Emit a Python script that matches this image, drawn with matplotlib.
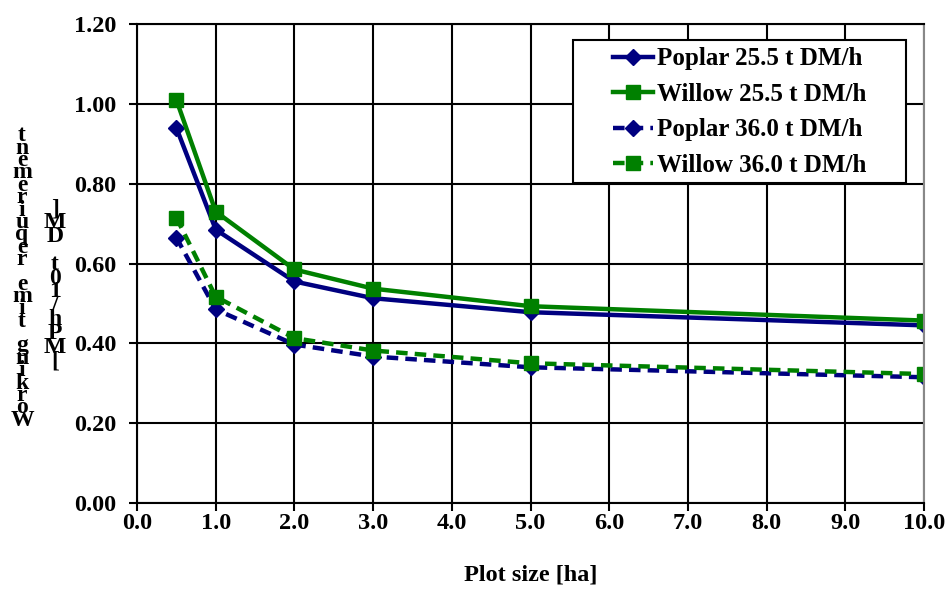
import matplotlib.pyplot as plt
from matplotlib.patches import Rectangle

# plot size [ha]
plot_size = [0.5, 1.0, 2.0, 3.0, 5.0, 10.0]

# working time requirement for each series
poplar_255 = [0.94, 0.685, 0.555, 0.513, 0.478, 0.445]
willow_255 = [1.01, 0.73, 0.585, 0.537, 0.493, 0.457]
poplar_360 = [0.665, 0.485, 0.397, 0.367, 0.340, 0.315]
willow_360 = [0.715, 0.517, 0.413, 0.382, 0.350, 0.323]

labels = ["Poplar 25.5 t DM/h", "Willow 25.5 t DM/h",
          "Poplar 36.0 t DM/h", "Willow 36.0 t DM/h"]

x_ticks = [0, 1, 2, 3, 4, 5, 6, 7, 8, 9, 10]
y_ticks = [0.0, 0.2, 0.4, 0.6, 0.8, 1.0, 1.2]

navy = "#000080"
green = "#008000"

plt.rcParams["font.family"] = ["Liberation Serif", "DejaVu Serif"]
plt.rcParams["font.weight"] = "bold"

fig = plt.figure(figsize=(9.47, 5.91), dpi=100)
ax = fig.add_axes([137 / 947, 1 - 503 / 591, (924 - 137) / 947, (503 - 24) / 591])

dash = (0, (2.6, 1.6))
ax.plot(plot_size, poplar_255, color=navy, lw=3.2, marker="D", ms=8, label=labels[0])
ax.plot(plot_size, willow_255, color=green, lw=3.2, marker="s", ms=10, label=labels[1])
ax.plot(plot_size, poplar_360, color=navy, lw=3.2, ls=dash, marker="D", ms=8, label=labels[2])
ax.plot(plot_size, willow_360, color=green, lw=3.2, ls=dash, marker="s", ms=10, label=labels[3])

ax.set_xlim(0, 10)
ax.set_ylim(0, 1.2)
ax.set_xticks(x_ticks)
ax.set_xticklabels([f"{v:.1f}" for v in x_ticks])
ax.set_yticks(y_ticks)
ax.set_yticklabels([f"{v:.2f}" for v in y_ticks])
ax.tick_params(axis="both", labelsize=17.5, direction="out", length=6, width=1.5)
ax.tick_params(axis="x", pad=1)
ax.tick_params(axis="y", pad=9)
ax.grid(True, color="black", lw=1.5)
ax.set_axisbelow(True)
for side in ["left", "bottom", "top"]:
    ax.spines[side].set_linewidth(1.5)
    ax.spines[side].set_color("black")
ax.spines["right"].set_color("#888888")
ax.spines["right"].set_linewidth(1.5)

ax.set_xlabel("Plot size [ha]", fontsize=17.5, fontweight="bold", labelpad=22)

# y label drawn as stacked characters, as in the original
col1 = "Working time requirement"[::-1]
col2 = "[MPh/10t DM]"[::-1]
fig.text(22 / 947, 1 - 278 / 591, "\n".join(col1), fontsize=17, fontweight="bold",
         ha="center", va="center", linespacing=0.46)
fig.text(55 / 947, 1 - 285 / 591, "\n".join(col2), fontsize=17, fontweight="bold",
         ha="center", va="center", linespacing=0.55)

# legend box
box = Rectangle((573 / 947, 1 - 183 / 591), 333 / 947, 143 / 591,
                transform=fig.transFigure, facecolor="white", edgecolor="black",
                lw=1.5, zorder=3)
fig.patches.append(box)
handles, _ = ax.get_legend_handles_labels()
leg = fig.legend(handles, labels, loc="center",
                 bbox_to_anchor=(739.5 / 947, 1 - 112 / 591),
                 fontsize=18, frameon=False, handlelength=1.6,
                 handletextpad=0.15, labelspacing=0.5)
leg.set_zorder(4)

fig.savefig("out.png", dpi=100)
